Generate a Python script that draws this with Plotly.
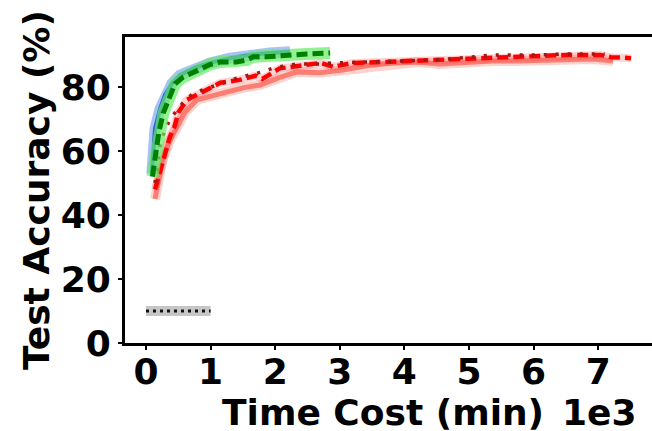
import plotly.graph_objects as go

# ---- data (time in minutes, accuracy in %) ----
blue_x = [90, 110, 140, 215, 295, 400, 525, 760, 990, 1300, 1610, 1920, 2230]
blue_y = [53, 60, 67, 73, 77.5, 81, 83.7, 86, 87.5, 89, 90, 90.6, 91]

green_x = [100, 150, 200, 270, 370, 450, 570, 790, 990, 1150, 1400, 1560, 1660, 1870, 2180, 2490, 2850]
green_y = [52, 58, 66, 72, 77, 81, 83, 85.3, 87, 87.8, 87.8, 88.4, 89.4, 89.4, 90, 90.3, 90.6]

salmon_x = [140, 200, 260, 350, 450, 600, 790, 1150, 1500, 1770, 2070, 2340, 2690, 3050, 3420,
            3820, 4200, 4550, 4970, 5370, 5740, 6100, 6520, 6920, 7230]
salmon_y = [45, 51, 57.8, 62.5, 66.6, 72, 76, 78, 79.7, 80.6, 83, 84.7, 84.4, 85.3, 86.6,
            87.5, 87.8, 87.2, 87.8, 88.1, 88.1, 88.4, 88.7, 88.7, 88.1]

red_x = [140, 220, 295, 370, 440, 500, 635, 836, 1150, 1450, 1700, 1800, 2070, 2490, 2700, 2900,
         3200, 3670, 4090, 4600, 5060, 5480, 5990, 6520, 7030, 7200, 7510]
red_y = [48, 54, 59.4, 64.4, 67.5, 72, 76, 78, 81.3, 82.2, 83.5, 82.5, 85.8, 86.9, 87.5, 86.3,
         87.5, 87.8, 88.1, 88.7, 89.1, 89.4, 89.7, 90, 90, 89.3, 89]

dred_x = [140, 180, 220, 300, 380, 450, 570, 730, 880, 1100, 1250, 1410, 1800, 1970, 2340, 2690,
          2900, 3400, 4440, 4900, 5370, 5740, 6100, 6520, 6900, 7100]
dred_y = [50, 56, 62, 67, 70, 72, 75, 78, 79, 80.6, 81.6, 82.8, 84.7, 85.9, 87.2, 87.2,
          87.5, 87.8, 88.4, 89.1, 90, 90, 90, 90.3, 90.3, 90.3]

black_x = [0, 200, 400, 600, 800, 1000]
black_y = [10, 10, 10, 10, 10, 10]

x_tickvals = [0, 1000, 2000, 3000, 4000, 5000, 6000, 7000]
x_ticktext = ["0", "1", "2", "3", "4", "5", "6", "7"]
y_tickvals = [0, 20, 40, 60, 80]

FONT = "DejaVu Sans"

fig = go.Figure()


def add(x, y, color, width, dash, glow=None, glow_w=0):
    if glow:
        fig.add_trace(go.Scatter(x=x, y=y, mode="lines", line=dict(color=glow, width=glow_w),
                                 hoverinfo="skip", showlegend=False))
    fig.add_trace(go.Scatter(x=x, y=y, mode="lines", line=dict(color=color, width=width, dash=dash),
                             showlegend=False))


add(black_x, black_y, "#111111", 3, "3px,4px", "rgba(128,128,128,0.45)", 10)
add(salmon_x, salmon_y, "rgba(250,110,100,0.85)", 5, "solid", "rgba(250,128,114,0.35)", 10)
add(red_x, red_y, "#ff0000", 4.5, "11px,5px", "rgba(255,80,80,0.25)", 8)
add(dred_x, dred_y, "#a01818", 3.5, "3px,9px")
add(blue_x, blue_y, "#2a5fd8", 4, "solid", "rgba(60,120,230,0.45)", 11)
add(green_x, green_y, "#008000", 5, "11px,5px", "rgba(100,235,100,0.7)", 12)

fig.update_layout(
    width=652, height=431,
    margin=dict(l=125, r=0, t=37, b=88),
    plot_bgcolor="white", paper_bgcolor="white",
    font=dict(family=FONT, size=36, color="black", weight="bold"),
    xaxis=dict(range=[-325, 7833], tickvals=x_tickvals, ticktext=x_ticktext,
               showline=True, linewidth=3, linecolor="black", mirror=True,
               ticks="outside", ticklen=4, tickwidth=1.5, tickcolor="black",
               showgrid=False, zeroline=False, ticklabelstandoff=-9,
               tickfont=dict(family=FONT, size=36, weight="bold")),
    yaxis=dict(range=[0, 95.6], tickvals=y_tickvals,
               showline=True, linewidth=3, linecolor="black", mirror=False,
               ticks="outside", ticklen=4, tickwidth=1.5, tickcolor="black",
               showgrid=False, zeroline=False,
               tickfont=dict(family=FONT, size=36, weight="bold")),
)

fig.add_annotation(text="Test Accuracy (%)", xref="paper", yref="paper",
                   x=(36 - 125) / 527, y=(343 - 190) / 306, textangle=-90,
                   showarrow=False, xanchor="center", yanchor="middle",
                   font=dict(family=FONT, size=36, weight="bold"))
fig.add_annotation(text="Time Cost (min)", xref="paper", yref="paper",
                   x=(383 - 125) / 527, y=(343 - 412) / 306,
                   showarrow=False, xanchor="center", yanchor="middle",
                   font=dict(family=FONT, size=36, weight="bold"))
fig.add_annotation(text="1e3", xref="paper", yref="paper",
                   x=(560 - 125) / 527, y=(343 - 412) / 306,
                   showarrow=False, xanchor="left", yanchor="middle",
                   font=dict(family=FONT, size=36, weight="bold"))

fig.write_html("out.html")
